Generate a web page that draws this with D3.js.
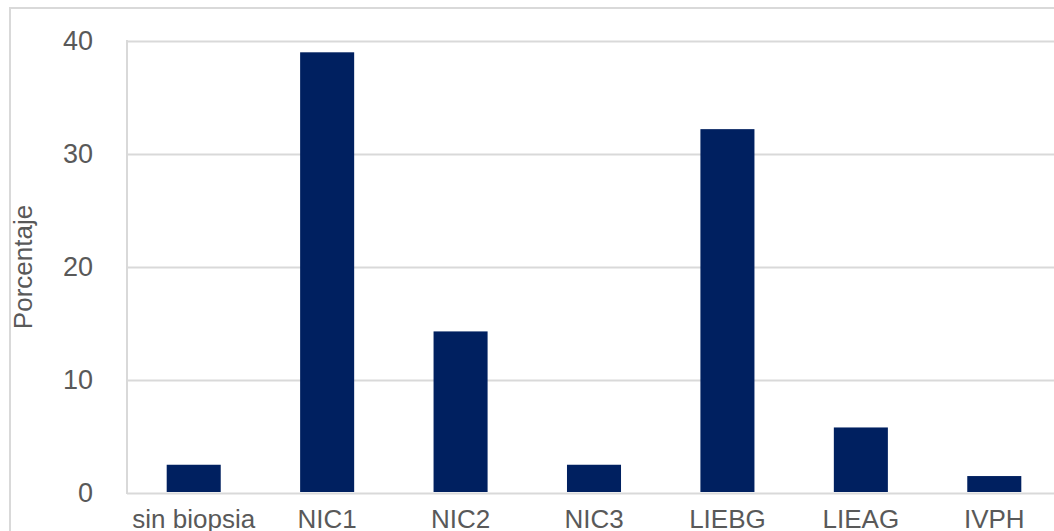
<!DOCTYPE html>
<html>
<head>
<meta charset="utf-8">
<script src="https://cdn.jsdelivr.net/npm/d3@7"></script>
<style>
  html, body { margin: 0; padding: 0; background: #fff; overflow: hidden; }
  svg { display: block; font-family: "Liberation Sans", Arial, Helvetica, sans-serif; }
</style>
</head>
<body>
<svg id="chart" width="1054" height="531"></svg>
<script>
// Distribución porcentual por diagnóstico histológico
const categories = ["sin biopsia", "NIC1", "NIC2", "NIC3", "LIEBG", "LIEAG", "IVPH"];
const porcentaje = [2.5, 39.0, 14.3, 2.5, 32.2, 5.8, 1.5];
const yTicks = [0, 10, 20, 30, 40];
const yTitle = "Porcentaje";

const svg = d3.select("#chart");
const W = 1054, H = 531;
const margin = { left: 127, right: -7, top: 41, bottom: 38 };

// outer chart frame
svg.append("rect")
  .attr("x", 10).attr("y", 8)
  .attr("width", W + 20).attr("height", H + 20)
  .attr("fill", "#fff")
  .attr("stroke", "#d9d9d9").attr("stroke-width", 2);

const x = d3.scaleBand()
  .domain(categories)
  .range([margin.left, W - margin.right])
  .paddingInner(0.595)
  .paddingOuter(0.2975);

const y = d3.scaleLinear()
  .domain([0, 40])
  .range([H - margin.bottom, margin.top]);

// horizontal gridlines
const grid = svg.append("g")
  .attr("transform", `translate(${margin.left},0)`)
  .call(d3.axisLeft(y).tickValues(yTicks).tickSize(-(W - margin.right - margin.left)).tickFormat(""));
grid.select(".domain").remove();
grid.selectAll("line").attr("stroke", "#d9d9d9").attr("stroke-width", 2);

// left axis line
svg.append("line")
  .attr("x1", margin.left).attr("x2", margin.left)
  .attr("y1", y(40) - 1).attr("y2", y(0) + 1)
  .attr("stroke", "#d9d9d9").attr("stroke-width", 2);

// bars
svg.append("g").selectAll("rect")
  .data(categories.map((c, i) => ({ c, v: porcentaje[i] })))
  .join("rect")
  .attr("x", d => x(d.c))
  .attr("width", x.bandwidth())
  .attr("y", d => y(d.v))
  .attr("height", d => y(0) - y(d.v) - 1)
  .attr("fill", "#002060");

// y tick labels
const yAxis = svg.append("g")
  .attr("transform", `translate(${margin.left - 34},0)`)
  .call(d3.axisLeft(y).tickValues(yTicks).tickSize(0).tickPadding(0));
yAxis.select(".domain").remove();
yAxis.selectAll("text")
  .attr("fill", "#595959")
  .style("font-size", "27px")
  .style("font-family", "\"Liberation Sans\", Arial, sans-serif");

// x category labels
const xAxis = svg.append("g")
  .attr("transform", `translate(0,${y(0)})`)
  .call(d3.axisBottom(x).tickSize(0).tickPadding(0));
xAxis.select(".domain").remove();
xAxis.selectAll("text")
  .attr("dy", "0")
  .attr("y", 35)
  .attr("fill", "#595959")
  .style("font-size", "26px")
  .style("font-family", "\"Liberation Sans\", Arial, sans-serif");

// y axis title
svg.append("text")
  .attr("transform", `translate(32,${(y(0) + y(40)) / 2}) rotate(-90)`)
  .attr("text-anchor", "middle")
  .attr("fill", "#595959")
  .style("font-size", "26px")
  .text(yTitle);
</script>
</body>
</html>
